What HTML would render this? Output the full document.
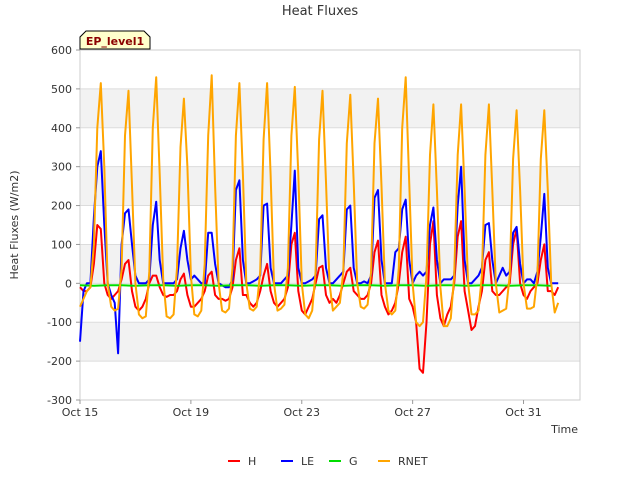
<!DOCTYPE html>
<html><head><meta charset="utf-8"><style>
body{margin:0;background:#fff;font-family:"Liberation Sans","DejaVu Sans",sans-serif;}
svg text{font-family:"DejaVu Sans","Liberation Sans",sans-serif;}
</style></head><body>
<svg id="chart" width="640" height="480" xmlns="http://www.w3.org/2000/svg">
<text x="320" y="15" text-anchor="middle" font-size="13" fill="#333">Heat Fluxes</text>
<g id="bands"></g>
<g id="grid"></g>
<rect x="80" y="50" width="500" height="350" fill="none" stroke="#ccc"/>
<g id="series"></g>
<g id="axes"></g>
<text transform="translate(18,225) rotate(-90)" text-anchor="middle" font-size="11" fill="#333">Heat Fluxes (W/m2)</text>
<text x="578" y="433" text-anchor="end" font-size="11" fill="#333">Time</text>
<g>
<path d="M86,31 L144,31 L150,37 L150,49 L80,49 L80,37 Z" fill="#ffffcc" stroke="#000" stroke-width="1"/>
<text x="115" y="45" text-anchor="middle" font-size="11" font-weight="bold" fill="#8b0000">EP_level1</text>
</g>
<g id="legend"></g>
</svg>
<script>
const yTicks=[-300,-200,-100,0,100,200,300,400,500,600];
const xTickLabels=["Oct 15","Oct 19","Oct 23","Oct 27","Oct 31"];
const xTickDays=[0,4,8,12,16];
const hours=[0,3,6,9,12,15,18,21];
const RNET=[
-60,-40,-20,-10,100,400,515,300,
0,-60,-70,-65,40,380,495,250,
0,-80,-90,-85,30,400,530,280,
10,-85,-90,-80,40,350,475,300,
20,-80,-85,-70,50,380,535,250,
0,-70,-75,-65,40,380,515,280,
0,-65,-70,-60,30,370,515,280,
0,-70,-65,-55,40,380,505,280,
0,-80,-90,-70,30,370,495,260,
0,-70,-60,-50,30,360,485,260,
0,-60,-65,-55,30,360,475,250,
0,-70,-80,-70,40,400,530,260,
0,-100,-110,-100,20,330,460,240,
-10,-110,-110,-90,20,330,460,240,
0,-80,-80,-70,20,330,460,240,
0,-75,-70,-65,20,320,445,240,
0,-65,-65,-60,20,320,445,240,
0,-75,-50];
const LE=[
-150,-20,0,0,170,300,340,150,
0,-30,-50,-180,100,180,190,100,
20,0,0,0,10,150,210,60,
0,0,0,0,10,90,135,60,
10,20,10,0,0,130,130,50,
0,-5,-10,-10,10,240,265,60,
0,0,5,10,20,200,205,40,
0,0,0,10,20,150,290,40,
0,0,5,10,20,165,175,40,
0,0,10,20,30,190,200,40,
0,0,5,0,20,220,240,60,
0,0,0,80,90,190,215,60,
0,20,30,20,30,150,195,60,
0,10,10,10,20,200,300,60,
0,0,10,20,40,150,155,60,
0,20,40,20,30,130,145,50,
0,10,10,0,30,120,230,40,
0,0,0];
const H=[
-10,-20,-20,-10,50,150,140,0,
-30,-40,-30,-20,10,50,60,-20,
-60,-70,-60,-40,0,20,20,-10,
-30,-35,-30,-30,-20,10,25,-30,
-60,-60,-50,-40,-20,20,30,-30,
-40,-40,-45,-40,-10,60,90,-30,
-30,-50,-60,-50,-20,20,50,-20,
-50,-60,-50,-40,-10,100,130,-20,
-70,-80,-60,-40,0,40,45,-30,
-50,-40,-50,-30,0,30,40,-20,
-30,-40,-40,-30,0,80,110,-30,
-60,-80,-70,-50,0,80,120,-40,
-60,-100,-220,-230,-100,100,160,-30,
-90,-110,-80,-60,0,120,160,-20,
-70,-120,-110,-60,-20,60,80,-20,
-30,-30,-20,-10,0,100,140,0,
-30,-40,-20,-10,0,60,100,-20,
-20,-30,-10];
const G=[-5,-6,-5,-5,-6,-5,-5,-6,-5,-5,-6,-5,-5,-6,-5,-5,-6,-5,-5,-6,-5,-5,-6,-5,-5,-6,-5,-5,-6,-5,-5,-6,-5,-5,-6];
const NS="http://www.w3.org/2000/svg";
const X0=80,X1=580,DAYPX=27.72,Y0=400,Y1=50;
const xs=d=>X0+d*DAYPX;
const ys=v=>Y0-(v+300)/900*(Y0-Y1);
function mk(tag,parent,attrs){const e=document.createElementNS(NS,tag);for(const k in attrs)e.setAttribute(k,attrs[k]);parent.appendChild(e);return e;}
const bands=document.getElementById('bands'),grid=document.getElementById('grid'),axes=document.getElementById('axes'),ser=document.getElementById('series'),leg=document.getElementById('legend');
[[400,500],[200,300],[0,100],[-200,-100]].forEach(b=>{
 const r=mk('rect',bands,{x:X0,y:ys(b[1]),width:X1-X0,height:ys(b[0])-ys(b[1]),fill:'#f2f2f2'});
 
 
});
yTicks.forEach(t=>{
 const l=mk('line',grid,{x1:X0,x2:X1,y1:ys(t),y2:ys(t),stroke:'#dcdcdc'});
 
 
 const tx=mk('text',axes,{x:X0-8,y:ys(t)+4,'text-anchor':'end','font-size':'11',fill:'#333'});
 tx.textContent=t;
 
 
 mk('line',axes,{x1:X0-4,x2:X0,y1:ys(t),y2:ys(t),stroke:'#999'});
});
xTickDays.forEach((d,i)=>{
 const tx=mk('text',axes,{x:xs(d),y:Y0+16,'text-anchor':'middle','font-size':'11',fill:'#333'});
 tx.textContent=xTickLabels[i];
 
 
 mk('line',axes,{x1:xs(d),x2:xs(d),y1:Y0,y2:Y0+4,stroke:'#999'});
});
function line(vals,times,color,name){
 const pts=vals.map((v,i)=>xs(times(i)).toFixed(1)+','+ys(v).toFixed(1)).join(' ');
 const p=mk('polyline',ser,{points:pts,fill:'none',stroke:color,'stroke-width':'2','stroke-linejoin':'round'});
 
 
}
const t3=i=>Math.floor(i/8)+hours[i%8]/24;
line(H,t3,'#ff0000','series-h');
line(LE,t3,'#0000ff','series-le');
line(G,i=>i*0.5,'#00dd00','series-g');
line(RNET,t3,'#ffa500','series-rnet');
const items=[['H','#ff0000',228],['LE','#0000ff',281],['G','#00dd00',329],['RNET','#ffa500',378]];
items.forEach(it=>{
 const g=mk('g',leg,{});
 
 
 mk('line',g,{x1:it[2],x2:it[2]+12,y1:461,y2:461,stroke:it[1],'stroke-width':'2'});
 const t=mk('text',g,{x:it[2]+20,y:465,'font-size':'11',fill:'#333'});t.textContent=it[0];
});
</script>
</body></html>
